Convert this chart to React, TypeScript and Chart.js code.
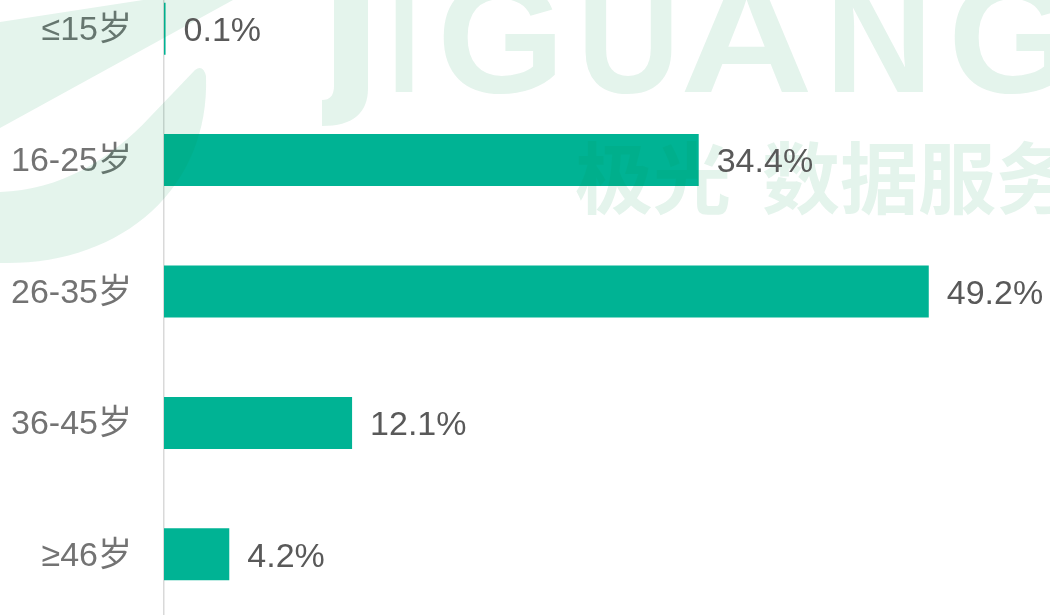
import { useEffect, useRef } from "react";
import { Chart, registerables } from "chart.js";

Chart.register(...registerables);

const categories = ["≤15岁", "16-25岁", "26-35岁", "36-45岁", "≥46岁"];
const values = [0.1, 34.4, 49.2, 12.1, 4.2];
const valueLabels = ["0.1%", "34.4%", "49.2%", "12.1%", "4.2%"];
const xMax = 57;
const barColor = "#00B394";

const wmLetters = ["I", "G", "U", "A", "N", "G"];
const wmLetterX = [388, 437, 577, 680, 825, 948];
const wmLetterW = [32, 128, 103, 133, 108, 128];
const wmCjk = ["极光", "数据服务"];
const wmCjkX = [575, 762];

const FONT = "'Liberation Sans', Arial, 'Noto Sans CJK SC', sans-serif";
const TOP_OFFSET = 37;
const CANVAS_H = 657;

function drawWatermark(c: CanvasRenderingContext2D) {
  c.fillStyle = "rgb(0,150,80)";
  // band
  c.beginPath();
  c.moveTo(0, 22);
  c.lineTo(143, 0);
  c.lineTo(233, 0);
  c.lineTo(0, 128);
  c.closePath();
  c.fill();
  // crescent
  c.beginPath();
  c.moveTo(0, 263);
  c.bezierCurveTo(120, 266, 210, 190, 206, 76);
  c.quadraticCurveTo(203, 64, 195, 70);
  c.lineTo(150, 117);
  c.bezierCurveTo(110, 160, 60, 190, 0, 192);
  c.closePath();
  c.fill();
  // J
  c.beginPath();
  c.moveTo(334, -30);
  c.lineTo(368, -30);
  c.lineTo(368, 88);
  c.quadraticCurveTo(368, 126, 322, 126);
  c.lineTo(322, 100);
  c.quadraticCurveTo(334, 100, 334, 86);
  c.closePath();
  c.fill();
  // latin
  c.font = "bold 160px " + FONT;
  c.textBaseline = "alphabetic";
  c.textAlign = "left";
  wmLetters.forEach((ch, i) => {
    const w = c.measureText(ch).width;
    c.save();
    c.translate(wmLetterX[i], 92);
    c.scale(wmLetterW[i] / w, 1);
    c.fillText(ch, 0, 0);
    c.restore();
  });
  // cjk
  c.font = "bold 78px 'Noto Sans CJK SC', sans-serif";
  c.textBaseline = "middle";
  wmCjk.forEach((t, i) => {
    c.fillText(t, wmCjkX[i], 178);
  });
}

const watermarkPlugin = {
  id: "watermark",
  afterDatasetsDraw(chart: any) {
    const ctx = chart.ctx as CanvasRenderingContext2D;
    const off = document.createElement("canvas");
    off.width = chart.width;
    off.height = chart.height;
    const oc = off.getContext("2d");
    if (!oc) return;
    oc.translate(0, TOP_OFFSET);
    drawWatermark(oc);
    ctx.save();
    ctx.globalAlpha = 0.105;
    ctx.drawImage(off, 0, 0);
    ctx.restore();
  },
};

const valueLabelPlugin = {
  id: "valueLabels",
  afterDatasetsDraw(chart: any) {
    const ctx = chart.ctx as CanvasRenderingContext2D;
    const meta = chart.getDatasetMeta(0);
    ctx.save();
    ctx.font = "34px " + FONT;
    ctx.fillStyle = "#595959";
    ctx.textAlign = "left";
    ctx.textBaseline = "middle";
    meta.data.forEach((el: any, i: number) => {
      ctx.fillText(valueLabels[i], el.x + 18, el.y + 3);
    });
    ctx.restore();
  },
};

export default function App() {
  const ref = useRef<HTMLCanvasElement | null>(null);
  useEffect(() => {
    document.body.style.margin = "0";
    const canvas = ref.current;
    if (!canvas) return;
    const chart = new Chart(canvas, {
      type: "bar",
      data: {
        labels: categories,
        datasets: [
          {
            data: values,
            backgroundColor: barColor,
            borderWidth: 0,
            categoryPercentage: 0.396,
            barPercentage: 1,
          },
        ],
      },
      options: {
        indexAxis: "y",
        animation: false,
        responsive: true,
        maintainAspectRatio: false,
        devicePixelRatio: 1,
        layout: { padding: 0 },
        plugins: {
          legend: { display: false },
          tooltip: { enabled: false },
        },
        scales: {
          x: {
            display: false,
            min: 0,
            max: xMax,
          },
          y: {
            z: 1,
            grid: { display: false, drawTicks: false },
            border: { display: true, color: "#D9D9D9", width: 1.5 },
            ticks: {
              color: "#737373",
              font: { size: 34, family: FONT },
              padding: 32,
              labelOffset: 2,
            },
            afterFit: (scale: any) => {
              scale.width = 164;
              scale.paddingTop = 0;
              scale.paddingBottom = 0;
            },
          },
        },
      },
      plugins: [watermarkPlugin, valueLabelPlugin],
    });
    return () => chart.destroy();
  }, []);
  return (
    <div style={{ position: "relative", width: 1050, height: 615, overflow: "hidden", background: "#fff" }}>
      <div style={{ position: "absolute", left: 0, top: -TOP_OFFSET, width: 1050, height: CANVAS_H }}>
        <canvas ref={ref} />
      </div>
    </div>
  );
}
